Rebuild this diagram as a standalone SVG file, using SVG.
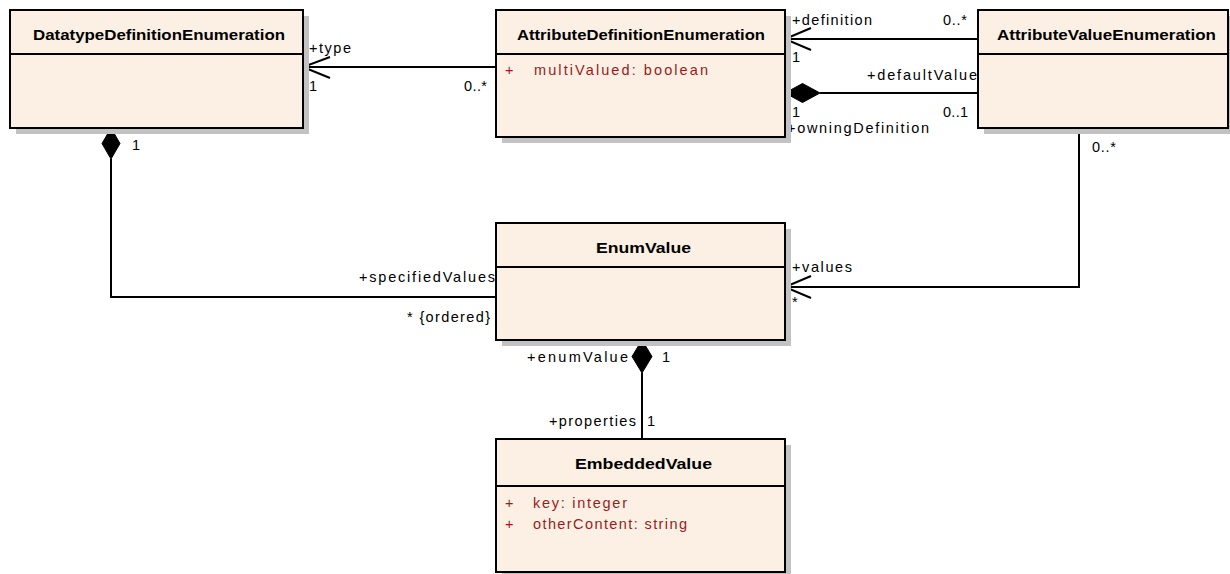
<svg xmlns="http://www.w3.org/2000/svg" width="1230" height="574" viewBox="0 0 1230 574">
<style>
.shadow{fill:#c2c2c2;}
.box{fill:#fbf0e3;stroke:#000;stroke-width:2;}
.div{stroke:#000;stroke-width:2;}
.title{font-family:"Liberation Sans",Arial,sans-serif;font-size:15.5px;font-weight:bold;fill:#000;}
.attr{font-family:"Liberation Sans",Arial,sans-serif;font-size:14.5px;fill:#9b1b1b;}
.lbl{font-family:"Liberation Sans",Arial,sans-serif;font-size:14.5px;fill:#000;}
.line{fill:none;stroke:#000;stroke-width:2;}
.dia{fill:#000;stroke:#000;stroke-width:1;}
</style>
<rect width="1230" height="574" fill="#fff"/>
<g id="connectors">
  <path class="line" d="M496,67 H303"/>
  <polyline class="line" points="330,57 303,67 330,78"/>
  <path class="line" d="M978,39 H785"/>
  <polyline class="line" points="811,28 785,39 811,50"/>
  <path class="line" d="M978,93 H820"/>
  <polygon class="dia" points="785,93 802.5,83.5 820,93 802.5,102.5"/>
  <path class="line" d="M1079,128 V287 H785"/>
  <polyline class="line" points="811,276 785,287 811,298"/>
  <polygon class="dia" points="111,128 120,143.5 111,159 102,143.5"/>
  <path class="line" d="M111,159 V297 H496"/>
  <polygon class="dia" points="642,340 652,356.5 642,373 632,356.5"/>
  <path class="line" d="M642,373 V439"/>
  <text class="lbl" x="309" y="53" textLength="42" lengthAdjust="spacing">+type</text>
  <text class="lbl" x="309" y="91">1</text>
  <text class="lbl" x="464" y="91" textLength="23" lengthAdjust="spacing">0..*</text>
  <text class="lbl" x="792" y="25" textLength="80" lengthAdjust="spacing">+definition</text>
  <text class="lbl" x="943" y="25" textLength="24" lengthAdjust="spacing">0..*</text>
  <text class="lbl" x="792" y="62">1</text>
  <text class="lbl" x="867" y="80" textLength="110" lengthAdjust="spacing">+defaultValue</text>
  <text class="lbl" x="792" y="117">1</text>
  <text class="lbl" x="943" y="117" textLength="25" lengthAdjust="spacing">0..1</text>
  <text class="lbl" x="787" y="133" textLength="142" lengthAdjust="spacing">+owningDefinition</text>
  <text class="lbl" x="1092" y="152" textLength="24" lengthAdjust="spacing">0..*</text>
  <text class="lbl" x="132" y="150">1</text>
  <text class="lbl" x="359" y="282" textLength="136" lengthAdjust="spacing">+specifiedValues</text>
  <text class="lbl" x="407" y="322" textLength="83" lengthAdjust="spacing">* {ordered}</text>
  <text class="lbl" x="792" y="272" textLength="60" lengthAdjust="spacing">+values</text>
  <text class="lbl" x="792" y="307">*</text>
  <text class="lbl" x="527" y="362" textLength="101" lengthAdjust="spacing">+enumValue</text>
  <text class="lbl" x="662" y="362">1</text>
  <text class="lbl" x="549" y="426" textLength="87" lengthAdjust="spacing">+properties</text>
  <text class="lbl" x="647" y="426">1</text>
</g>
<g id="DatatypeDefinitionEnumeration">
  <rect class="shadow" x="16" y="16" width="293" height="118"/>
  <rect class="box" x="10" y="10" width="293" height="118"/>
  <line class="div" x1="10" y1="54" x2="303" y2="54"/>
  <text class="title" x="33" y="40" textLength="252" lengthAdjust="spacingAndGlyphs">DatatypeDefinitionEnumeration</text>
</g>
<g id="AttributeDefinitionEnumeration">
  <rect class="shadow" x="502" y="16" width="289" height="127"/>
  <rect class="box" x="496" y="10" width="289" height="127"/>
  <line class="div" x1="496" y1="54" x2="785" y2="54"/>
  <text class="title" x="517" y="40" textLength="248" lengthAdjust="spacingAndGlyphs">AttributeDefinitionEnumeration</text>
  <text class="attr" x="505" y="75">+</text>
  <text class="attr" x="534" y="75" textLength="174" lengthAdjust="spacing">multiValued: boolean</text>
</g>
<g id="AttributeValueEnumeration">
  <rect class="shadow" x="984" y="16" width="250" height="118"/>
  <rect class="box" x="978" y="10" width="250" height="118"/>
  <line class="div" x1="978" y1="54" x2="1228" y2="54"/>
  <text class="title" x="997" y="40" textLength="219" lengthAdjust="spacingAndGlyphs">AttributeValueEnumeration</text>
</g>
<g id="EnumValue">
  <rect class="shadow" x="502" y="229" width="289" height="117"/>
  <rect class="box" x="496" y="223" width="289" height="117"/>
  <line class="div" x1="496" y1="267" x2="785" y2="267"/>
  <text class="title" x="596" y="253" textLength="95" lengthAdjust="spacingAndGlyphs">EnumValue</text>
</g>
<g id="EmbeddedValue">
  <rect class="shadow" x="502" y="445" width="289" height="133"/>
  <rect class="box" x="496" y="439" width="289" height="133"/>
  <line class="div" x1="496" y1="486" x2="785" y2="486"/>
  <text class="title" x="575" y="469" textLength="137" lengthAdjust="spacingAndGlyphs">EmbeddedValue</text>
  <text class="attr" x="505" y="508">+</text>
  <text class="attr" x="533" y="508" textLength="94" lengthAdjust="spacing">key: integer</text>
  <text class="attr" x="505" y="529">+</text>
  <text class="attr" x="533" y="529" textLength="154" lengthAdjust="spacing">otherContent: string</text>
</g>
</svg>
